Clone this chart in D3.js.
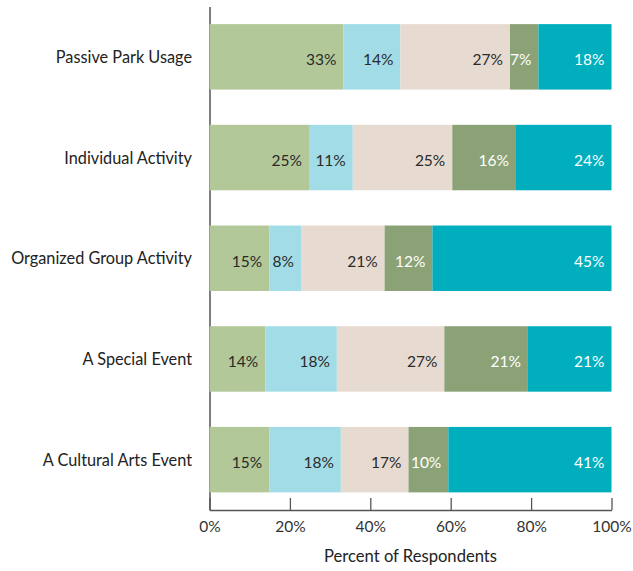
<!DOCTYPE html>
<html>
<head>
<meta charset="utf-8">
<script src="https://cdn.jsdelivr.net/npm/d3@7"></script>
<style>
  html, body { margin: 0; padding: 0; background: #ffffff; }
  svg { display: block; font-family: "Lato", "Open Sans", sans-serif; }
</style>
</head>
<body>
<svg id="chart" width="633" height="571"></svg>
<script>
const categories = ["Passive Park Usage", "Individual Activity", "Organized Group Activity", "A Special Event", "A Cultural Arts Event"];
const seriesKeys = ["s1", "s2", "s3", "s4", "s5"];
const s1 = [33, 25, 15, 14, 15];
const s2 = [14, 11, 8, 18, 18];
const s3 = [27, 25, 21, 27, 17];
const s4 = [7, 16, 12, 21, 10];
const s5 = [18, 24, 45, 21, 41];
const tickValues = [0, 0.2, 0.4, 0.6, 0.8, 1.0];
const axisTitle = "Percent of Respondents";
const colors = ["#b3c899", "#a2dde7", "#e7dbd1", "#8ba276", "#00aebe"];
const textColors = ["#2a2a2a", "#2a2a2a", "#2a2a2a", "#ffffff", "#ffffff"];

const seriesArrays = [s1, s2, s3, s4, s5];
const rows = categories.map((c, i) => {
  const r = { category: c };
  seriesKeys.forEach((k, j) => r[k] = seriesArrays[j][i]);
  return r;
});

const svg = d3.select("#chart");
const x = d3.scaleLinear().domain([0, 1]).range([209.5, 611.5]);
const y = d3.scaleBand().domain(categories).range([6.5, 510]).paddingInner(0.35).paddingOuter(0.175);
const color = d3.scaleOrdinal().domain(seriesKeys).range(colors);
const tcolor = d3.scaleOrdinal().domain(seriesKeys).range(textColors);

const stack = d3.stack().keys(seriesKeys).offset(d3.stackOffsetExpand);
const stacked = stack(rows);

// X axis
const xAxis = d3.axisBottom(x).tickValues(tickValues).tickFormat(d3.format(".0%"))
  .tickSizeInner(-12).tickSizeOuter(0).tickPadding(11);
const gx = svg.append("g").attr("transform", "translate(0,510)").call(xAxis);
gx.select(".domain").attr("stroke", "#555").attr("stroke-width", 1.5);
gx.selectAll(".tick line").attr("stroke", "#555").attr("stroke-width", 1.3);
gx.selectAll(".tick text").attr("font-size", 15.5).attr("fill", "#333").attr("font-family", "Lato, sans-serif");

// Y axis
const yAxis = d3.axisLeft(y).tickSize(0).tickPadding(17.5);
const gy = svg.append("g").attr("transform", "translate(209.5,0)").call(yAxis);
gy.select(".domain").attr("stroke", "#555").attr("stroke-width", 1.5);
gy.selectAll(".tick text").attr("font-size", 16.3).attr("fill", "#222").attr("dy", "0.38em").attr("font-family", "Lato, sans-serif");

// X axis title
svg.append("text")
  .attr("x", (x(0) + x(1)) / 2)
  .attr("y", 561.5)
  .attr("text-anchor", "middle")
  .attr("font-size", 16.6)
  .attr("fill", "#222")
  .text(axisTitle);

// Bars
const layers = svg.append("g").selectAll("g.layer").data(stacked).join("g")
  .attr("class", "layer")
  .attr("fill", d => color(d.key));

layers.selectAll("rect").data(d => d.map(v => ({ v, key: d.key }))).join("rect")
  .attr("x", d => x(d.v[0]))
  .attr("y", d => y(d.v.data.category))
  .attr("width", d => x(d.v[1]) - x(d.v[0]))
  .attr("height", y.bandwidth());

// Labels
layers.selectAll("text").data(d => d.map(v => ({ v, key: d.key }))).join("text")
  .attr("x", d => x(d.v[1]) - 7)
  .attr("y", d => y(d.v.data.category) + y.bandwidth() / 2 + 8.5)
  .attr("text-anchor", "end")
  .attr("font-size", 15.5)
  .attr("fill", d => tcolor(d.key))
  .text(d => d.v.data[d.key] + "%");
</script>
</body>
</html>
